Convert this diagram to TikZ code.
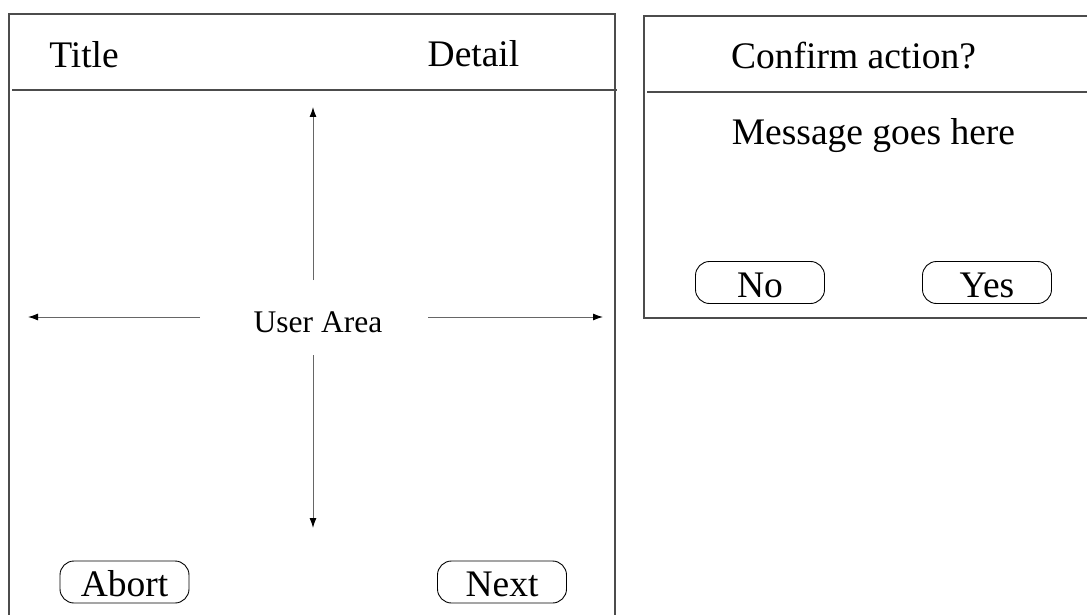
\documentclass[tikz,border=0pt]{standalone}
\usepackage{fontspec}
\setmainfont{Liberation Serif}
\usepackage{tikz}
\usetikzlibrary{arrows.meta}
\tikzstyle{panel} = [draw=black!70, line width=1.6pt]
\tikzstyle{heading} = [inner sep=0pt, anchor=base, font=\fontsize{37.5}{45}\selectfont]
\tikzstyle{small} = [inner sep=0pt, anchor=base, font=\fontsize{31.5}{38}\selectfont]
\tikzstyle{button} = [rectangle, rounded corners=14pt, draw=black, line width=0.9pt, minimum width=129pt, minimum height=42pt, inner sep=0pt, text height=29pt, text depth=0pt, text centered, font=\fontsize{37.5}{45}\selectfont]
\tikzstyle{arrow} = [draw=black!60, line width=1pt, -{Latex[length=10pt, width=7pt, black]}]

\begin{document}
\begin{tikzpicture}[x=1pt, y=-1pt]
\useasboundingbox (0,0) rectangle (1087,615);
\clip (0,0) rectangle (1087,615);

% main window
\draw [panel] (9,640) -- (9,14) -- (615,14) -- (615,640);
\draw [panel] (12,90) -- (617,90);
\node (title) [heading] at (84,68) {Title};
\node (detail) [heading] at (473.5,67) {Detail};

\node (area) [small] at (318,332) {User Area};
\coordinate (areaW) at (200,317);
\coordinate (areaE) at (428,317);
\coordinate (areaN) at (313,280);
\coordinate (areaS) at (313,355);
\coordinate (edgeW) at (28,317);
\coordinate (edgeE) at (603,317);
\coordinate (edgeN) at (313,107);
\coordinate (edgeS) at (313,528);
\draw [arrow] (areaW) -- (edgeW);
\draw [arrow] (areaE) -- (edgeE);
\draw [arrow] (areaN) -- (edgeN);
\draw [arrow] (areaS) -- (edgeS);

\node (abort) [button] at (124.5,582) {Abort};
\node (next) [button] at (502,582) {Next};

% confirm dialog
\draw [panel] (1100,16) -- (644,16) -- (644,318) -- (1100,318);
\draw [panel] (647,92) -- (1100,92);
\node (confirm) [heading] at (853.5,69) {Confirm action?};
\node (message) [heading] at (873.5,145) {Message goes here};

\node (no) [button] at (760,282.5) {No};
\node (yes) [button] at (987,282.5) {Yes};

\end{tikzpicture}
\end{document}
